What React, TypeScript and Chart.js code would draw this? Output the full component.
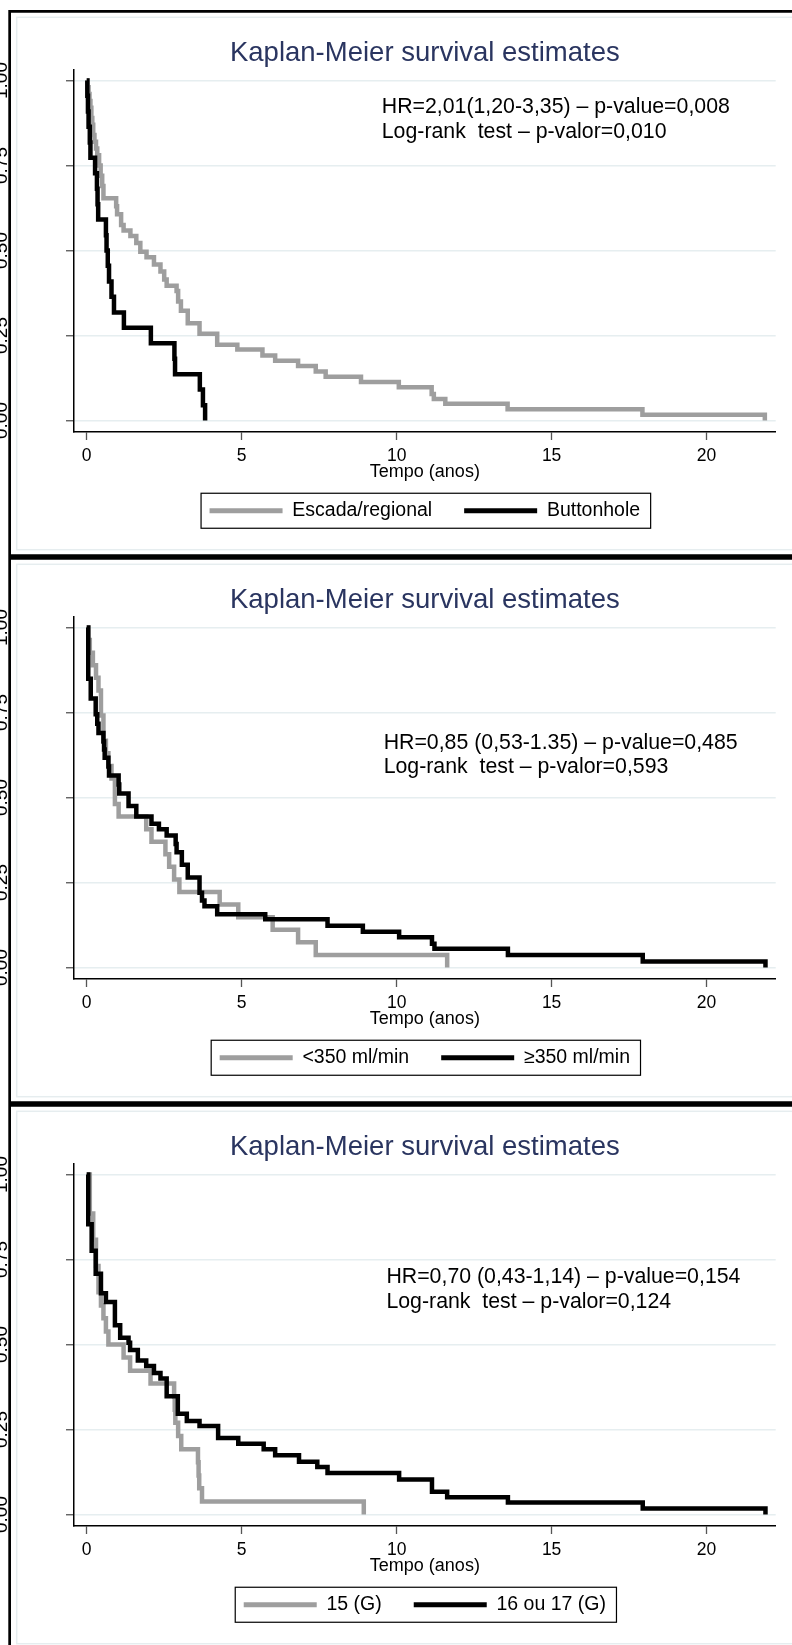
import React, { useEffect, useRef } from 'react';
import { Chart, registerables } from 'chart.js';

Chart.register(...registerables);

const FONT = "'Liberation Sans', Arial, Helvetica, sans-serif";
const GRAY = '#9e9e9e';
const TITLE_COLOR = '#2a3560';

// shared axis content
const titleText = 'Kaplan-Meier survival estimates';
const xAxisTitle = 'Tempo (anos)';
const xTicks = [0, 5, 10, 15, 20];
const yTicks = [0, 0.25, 0.5, 0.75, 1];
const yTickLabels = ['0.00', '0.25', '0.50', '0.75', '1.00'];

// Panel 1: Escada/regional vs Buttonhole
const p1Labels = ['Escada/regional', 'Buttonhole'];
const p1GrayT = [0, 0.03, 0.06, 0.09, 0.12, 0.15, 0.18, 0.21, 0.25, 0.3, 0.34, 0.4, 0.45, 0.5, 0.54, 0.95, 0.98, 1.11, 1.19, 1.41, 1.6, 1.73, 1.93, 2.17, 2.38, 2.5, 2.58, 2.9, 2.95, 3.04, 3.26, 3.64, 4.21, 4.86, 5.67, 6.08, 6.82, 7.39, 7.71, 8.85, 10.07, 11.13, 11.2, 11.57, 13.58, 17.93, 21.88];
const p1GrayS = [1, 0.98, 0.96, 0.94, 0.92, 0.89, 0.87, 0.84, 0.82, 0.8, 0.78, 0.75, 0.72, 0.69, 0.654, 0.63, 0.607, 0.575, 0.559, 0.543, 0.522, 0.496, 0.48, 0.459, 0.438, 0.415, 0.396, 0.381, 0.35, 0.323, 0.286, 0.255, 0.223, 0.209, 0.191, 0.176, 0.16, 0.144, 0.129, 0.113, 0.098, 0.078, 0.063, 0.049, 0.033, 0.017, 0];
const p1BlackT = [0, 0.02, 0.04, 0.06, 0.1, 0.12, 0.27, 0.33, 0.35, 0.37, 0.62, 0.64, 0.68, 0.72, 0.8, 0.88, 1.2, 2.07, 2.83, 2.85, 3.65, 3.75, 3.82];
const p1BlackS = [1, 0.955, 0.909, 0.864, 0.818, 0.773, 0.727, 0.682, 0.636, 0.591, 0.545, 0.5, 0.455, 0.409, 0.364, 0.318, 0.273, 0.227, 0.182, 0.136, 0.091, 0.045, 0];
const p1Note = ['HR=2,01(1,20-3,35) \u2013 p-value=0,008', 'Log-rank  test \u2013 p-valor=0,010'];

// Panel 2: <350 vs >=350 ml/min
const p2Labels = ['<350 ml/min', '\u2265350 ml/min'];
const p2GrayT = [0, 0.05, 0.1, 0.2, 0.3, 0.38, 0.46, 0.54, 0.62, 0.7, 0.8, 0.91, 1.03, 1.92, 2.09, 2.54, 2.66, 2.82, 2.99, 4.29, 4.89, 6.0, 6.82, 7.39, 11.63];
const p2GrayS = [1, 0.963, 0.926, 0.889, 0.852, 0.815, 0.741, 0.667, 0.63, 0.593, 0.556, 0.481, 0.444, 0.407, 0.37, 0.333, 0.296, 0.259, 0.222, 0.185, 0.148, 0.111, 0.074, 0.037, 0];
const p2BlackT = [0, 0.05, 0.13, 0.29, 0.34, 0.38, 0.54, 0.56, 0.58, 0.7, 0.72, 1.03, 1.05, 1.35, 1.6, 2.09, 2.33, 2.58, 2.87, 2.9, 3.07, 3.26, 3.64, 3.72, 3.8, 4.21, 5.76, 7.77, 8.91, 10.08, 11.14, 11.22, 13.59, 17.94, 21.9];
const p2BlackS = [1, 0.849, 0.791, 0.745, 0.717, 0.69, 0.665, 0.641, 0.617, 0.591, 0.565, 0.538, 0.512, 0.475, 0.444, 0.423, 0.407, 0.388, 0.363, 0.339, 0.302, 0.265, 0.22, 0.197, 0.18, 0.157, 0.142, 0.123, 0.105, 0.089, 0.07, 0.055, 0.037, 0.018, 0];
const p2Note = ['HR=0,85 (0,53-1.35) \u2013 p-value=0,485', 'Log-rank  test \u2013 p-valor=0,593'];

// Panel 3: 15 (G) vs 16 ou 17 (G)
const p3Labels = ['15 (G)', '16 ou 17 (G)'];
const p3GrayT = [0, 0.1, 0.21, 0.3, 0.38, 0.46, 0.54, 0.62, 0.7, 1.19, 1.4, 2.06, 2.82, 2.84, 2.86, 2.95, 3.05, 3.59, 3.61, 3.63, 3.72, 8.94];
const p3GrayS = [1, 0.885, 0.808, 0.731, 0.654, 0.615, 0.577, 0.538, 0.5, 0.462, 0.423, 0.385, 0.346, 0.308, 0.27, 0.231, 0.192, 0.154, 0.115, 0.077, 0.038, 0];
const p3BlackT = [0, 0.05, 0.16, 0.29, 0.46, 0.62, 0.91, 1.08, 1.35, 1.4, 1.65, 1.92, 2.17, 2.38, 2.58, 2.94, 3.23, 3.64, 4.24, 4.89, 5.71, 6.08, 6.85, 7.44, 7.77, 10.08, 11.14, 11.63, 13.59, 17.94, 21.9];
const p3BlackS = [1, 0.854, 0.776, 0.708, 0.651, 0.625, 0.557, 0.52, 0.505, 0.484, 0.453, 0.437, 0.416, 0.4, 0.348, 0.296, 0.275, 0.26, 0.225, 0.208, 0.192, 0.174, 0.155, 0.14, 0.122, 0.103, 0.067, 0.051, 0.035, 0.018, 0];
const p3Note = ['HR=0,70 (0,43-1,14) \u2013 p-value=0,154', 'Log-rank  test \u2013 p-valor=0,124'];

const PANEL_W = 792;
const PANEL_H = 547;

type PanelProps = {
  top: number;
  labels: string[];
  grayT: number[];
  grayS: number[];
  blackT: number[];
  blackS: number[];
  note: string[];
  noteX: number;
  noteY: number;
};

const framePlugin = {
  id: 'panelFrame',
  afterDraw(chart: any) {
    const { ctx, width, height } = chart;
    ctx.save();
    // light inner frame
    ctx.strokeStyle = '#e6edef';
    ctx.lineWidth = 1.5;
    ctx.strokeRect(16.7, 7.3, width - 16.7 + 10, height - 14.6);
    // outer black frame
    ctx.strokeStyle = '#000';
    ctx.lineWidth = 2.7;
    ctx.beginPath();
    ctx.moveTo(8.3, 1.35);
    ctx.lineTo(width, 1.35);
    ctx.moveTo(9.65, 0);
    ctx.lineTo(9.65, height);
    ctx.moveTo(8.3, height - 1.35);
    ctx.lineTo(width, height - 1.35);
    ctx.stroke();
    // legend frame
    const lg = chart.legend;
    if (lg && lg.legendHitBoxes && lg.legendHitBoxes.length) {
      const hb = lg.legendHitBoxes;
      const fs = lg.options.labels.font.size;
      const left = hb[0].left - 8.5;
      const last = hb[hb.length - 1];
      const right = last.left + last.width + 10.5;
      const cy = hb[0].top + fs / 2;
      ctx.strokeStyle = '#000';
      ctx.lineWidth = 1.2;
      ctx.strokeRect(left, cy - 17.5, right - left, 35);
    }
    ctx.restore();
  },
};

const notePlugin = {
  id: 'hrNote',
  afterDatasetsDraw(chart: any, _args: any, opts: any) {
    const { ctx, scales } = chart;
    const x = scales.x.getPixelForValue(opts.x);
    const y = scales.y.getPixelForValue(opts.y);
    ctx.save();
    ctx.fillStyle = '#000';
    ctx.font = `21.3px ${FONT}`;
    ctx.textAlign = 'left';
    ctx.textBaseline = 'middle';
    (opts.lines as string[]).forEach((l, i) => ctx.fillText(l, x, y + i * 24.5));
    ctx.restore();
  },
};

function makeConfig(p: PanelProps): any {
  const toPts = (t: number[], s: number[]) => t.map((x, i) => ({ x, y: s[i] }));
  const common = {
    stepped: true,
    pointRadius: 0,
    pointHoverRadius: 0,
    borderWidth: 4.5,
    fill: false,
    tension: 0,
    borderJoinStyle: 'miter',
    borderCapStyle: 'butt',
  };
  return {
    type: 'line',
    data: {
      datasets: [
        { ...common, label: p.labels[1], data: toPts(p.blackT, p.blackS), borderColor: '#000', backgroundColor: '#000' },
        { ...common, label: p.labels[0], data: toPts(p.grayT, p.grayS), borderColor: GRAY, backgroundColor: GRAY },
      ],
    },
    options: {
      animation: false,
      responsive: false,
      devicePixelRatio: 1,
      events: [],
      layout: { padding: { left: 0, right: 16.3, top: 0, bottom: 26.5 } },
      scales: {
        x: {
          type: 'linear',
          min: -0.41,
          max: 22.23,
          afterBuildTicks: (s: any) => {
            s.ticks = xTicks.map((v) => ({ value: v }));
          },
          afterFit: (s: any) => {
            s.height = 37;
          },
          ticks: {
            color: '#000',
            font: { family: FONT, size: 17.5 },
            padding: 5.7,
            autoSkip: false,
            maxRotation: 0,
            minRotation: 0,
            callback: (v: number) => String(v),
          },
          grid: { drawOnChartArea: false, drawTicks: true, tickLength: 8, tickColor: '#555', tickWidth: 1.3 },
          border: { display: true, color: '#000', width: 1.5 },
          title: {
            display: true,
            text: xAxisTitle,
            color: '#000',
            font: { family: FONT, size: 18 },
            padding: { top: 0, bottom: -13.4 },
          },
        },
        y: {
          type: 'linear',
          min: -0.0338,
          max: 1.0309,
          afterBuildTicks: (s: any) => {
            s.ticks = yTicks.map((v) => ({ value: v }));
          },
          afterFit: (s: any) => {
            s.width = 74;
          },
          ticks: {
            color: '#000',
            font: { family: FONT, size: 19 },
            minRotation: 90,
            maxRotation: 90,
            crossAlign: 'center',
            padding: 45.5,
            autoSkip: false,
            callback: (v: number) => yTickLabels[yTicks.indexOf(v)] ?? '',
          },
          grid: { color: '#e6eef0', lineWidth: 1.5, drawTicks: true, tickLength: 8, tickColor: '#555', tickWidth: 1.3 },
          border: { display: true, color: '#000', width: 1.5 },
        },
      },
      plugins: {
        tooltip: { enabled: false },
        title: {
          display: true,
          text: titleText,
          color: TITLE_COLOR,
          fullSize: false,
          font: { family: FONT, size: 27.5, weight: 'normal' },
          padding: { top: 26.7, bottom: 0.3 },
        },
        legend: {
          display: true,
          position: 'bottom',
          fullSize: false,
          labels: {
            color: '#000',
            font: { family: FONT, size: 19.5 },
            boxWidth: 73,
            boxHeight: 5,
            padding: 32,
            generateLabels: (chart: any) => {
              const ds = chart.data.datasets;
              return [1, 0].map((i) => ({
                text: ds[i].label,
                fillStyle: ds[i].borderColor,
                strokeStyle: ds[i].borderColor,
                lineWidth: 0,
                hidden: false,
                datasetIndex: i,
                fontColor: '#000',
              }));
            },
          },
        },
        hrNote: { x: p.noteX, y: p.noteY, lines: p.note },
      },
    },
    plugins: [notePlugin, framePlugin],
  };
}

function Panel(props: PanelProps) {
  const ref = useRef<HTMLCanvasElement>(null);
  useEffect(() => {
    const chart = new Chart(ref.current as HTMLCanvasElement, makeConfig(props));
    return () => chart.destroy();
  }, []);
  return (
    <canvas
      ref={ref}
      width={PANEL_W}
      height={PANEL_H}
      style={{ position: 'absolute', left: 0, top: props.top, width: PANEL_W, height: PANEL_H, display: 'block' }}
    />
  );
}

export default function App() {
  useEffect(() => {
    document.body.style.margin = '0';
    document.body.style.overflow = 'hidden';
  }, []);
  return (
    <div style={{ position: 'absolute', left: 0, top: 0, width: 792, height: 1645, overflow: 'hidden', background: '#fff' }}>
      <Panel top={10} labels={p1Labels} grayT={p1GrayT} grayS={p1GrayS} blackT={p1BlackT} blackS={p1BlackS} note={p1Note} noteX={9.52} noteY={0.921} />
      <Panel top={557} labels={p2Labels} grayT={p2GrayT} grayS={p2GrayS} blackT={p2BlackT} blackS={p2BlackS} note={p2Note} noteX={9.58} noteY={0.661} />
      <Panel top={1104} labels={p3Labels} grayT={p3GrayT} grayS={p3GrayS} blackT={p3BlackT} blackS={p3BlackS} note={p3Note} noteX={9.67} noteY={0.698} />
    </div>
  );
}
